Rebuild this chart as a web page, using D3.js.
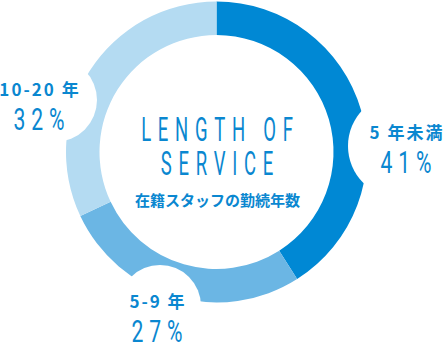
<!DOCTYPE html>
<html>
<head>
<meta charset="utf-8">
<script src="https://cdn.jsdelivr.net/npm/d3@7"></script>
<style>
  body { margin: 0; background: #fff; }
  svg { display: block; }
</style>
</head>
<body>
<div id="chart"></div>
<script>
// data
const categories = ["5 年未満", "5-9 年", "10-20 年"];
const values = [41, 27, 32];
const colors = ["#0088d4", "#6bb6e4", "#b4dbf2"];
const titleLines = ["LENGTH OF", "SERVICE"];
const subtitle = "在籍スタッフの勤続年数";

const width = 448, height = 354;
const cx = 216.5, cy = 152;
const textColor = "#0a87d0";

// white bubbles behind each label (same order as categories)
const bubbles = [
  { x: 400, y: 146, r: 52, lx: 406, ly: 139 },
  { x: 160, y: 306, r: 41, lx: 157, ly: 308 },
  { x: 55,  y: 100, r: 42, lx: 39,  ly: 96 }
];

const svg = d3.select("#chart")
  .append("svg")
  .attr("width", width)
  .attr("height", height)
  .attr("viewBox", [0, 0, width, height]);

const pie = d3.pie().sort(null).value(d => d);
const arc = d3.arc().innerRadius(117).outerRadius(150.5);

svg.append("g")
  .attr("transform", `translate(${cx},${cy})`)
  .selectAll("path")
  .data(pie(values))
  .join("path")
  .attr("d", arc)
  .attr("fill", (d, i) => colors[i]);

svg.append("g")
  .selectAll("circle")
  .data(bubbles)
  .join("circle")
  .attr("cx", d => d.x)
  .attr("cy", d => d.y)
  .attr("r", d => d.r)
  .attr("fill", "#fff");

// thin condensed text: regular face squeezed horizontally, one tspan per line
const thinText = (x, y, lines, size, sx, ls, lineGap) => {
  const t = svg.append("g")
    .attr("transform", `translate(${x},${y}) scale(${sx},1)`)
    .append("text")
    .attr("text-anchor", "middle")
    .attr("font-family", "Roboto, 'Open Sans', sans-serif")
    .attr("font-weight", 400)
    .attr("font-size", size)
    .attr("letter-spacing", ls)
    .attr("fill", textColor);
  lines.forEach((str, i) => {
    t.append("tspan")
      .attr("x", ls / 2)
      .attr("y", i * (lineGap || 0))
      .text(str);
  });
};

// center title
thinText(217, 141, titleLines, 33, 0.56, 12, 34);

svg.append("text")
  .attr("x", 217.5)
  .attr("y", 206)
  .attr("text-anchor", "middle")
  .attr("font-family", "'Noto Sans CJK JP', sans-serif")
  .attr("font-weight", 700)
  .attr("font-size", 15)
  .attr("fill", textColor)
  .text(subtitle);

// segment labels
bubbles.forEach((b, i) => {
  svg.append("text")
    .attr("x", b.lx + 1)
    .attr("y", b.ly)
    .attr("text-anchor", "middle")
    .attr("font-family", "'Noto Sans CJK JP', sans-serif")
    .attr("font-weight", 700)
    .attr("font-size", 17)
    .attr("letter-spacing", 2)
    .attr("fill", textColor)
    .text(categories[i]);

  thinText(b.lx, b.ly + 34, [values[i] + "%"], 32, 0.66, 9);
});
</script>
</body>
</html>
